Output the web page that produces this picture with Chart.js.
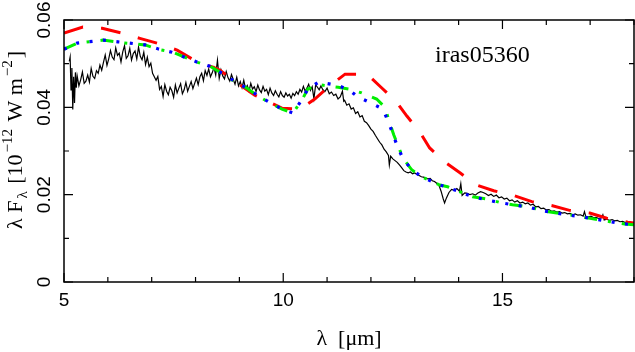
<!DOCTYPE html>
<html>
<head>
<meta charset="utf-8">
<script src="https://cdn.jsdelivr.net/npm/chart.js@4.4.0/dist/chart.umd.min.js"></script>
<style>
  body { margin: 0; background: #fff; }
  canvas { display: block; }
</style>
</head>
<body>
<canvas id="sedChart" width="635" height="352"></canvas>
<script>
// observed spectrum [lambda (um), lambda F_lambda]
const observed = [
  [5.12,.0505],[5.14,.0515],[5.16,.0440],[5.18,.0490],[5.20,.0395],[5.22,.0470],[5.24,.0410],[5.26,.0480],
  [5.28,.0445],[5.30,.0472],[5.34,.0449],[5.38,.0463],[5.42,.0481],[5.46,.0455],[5.50,.0460],[5.54,.0474],
  [5.58,.0458],[5.62,.0489],[5.66,.0471],[5.70,.0466],[5.74,.0484],[5.78,.0478],[5.82,.0497],[5.86,.0485],
  [5.90,.0503],[5.94,.0520],[5.98,.0496],[6.02,.0511],[6.06,.0530],[6.10,.0515],[6.14,.0509],[6.18,.0536],
  [6.22,.0519],[6.26,.0524],[6.30,.0504],[6.34,.0527],[6.38,.0541],[6.42,.0512],[6.46,.0518],[6.50,.0535],
  [6.54,.0508],[6.58,.0523],[6.62,.0529],[6.66,.0511],[6.70,.0538],[6.74,.0517],[6.78,.0509],[6.82,.0526],
  [6.86,.0498],[6.90,.0515],[6.94,.0493],[6.98,.0501],[7.02,.0478],[7.06,.0470],[7.10,.0462],[7.14,.0471],
  [7.18,.0441],[7.22,.0448],[7.26,.0425],[7.30,.0452],[7.34,.0437],[7.38,.0429],[7.42,.0446],[7.46,.0438],
  [7.50,.0423],[7.54,.0451],[7.58,.0433],[7.62,.0444],[7.66,.0454],[7.70,.0431],[7.74,.0440],[7.78,.0457],
  [7.82,.0437],[7.86,.0448],[7.90,.0459],[7.94,.0443],[7.98,.0455],[8.02,.0467],[8.06,.0452],[8.10,.0470],
  [8.14,.0478],[8.18,.0461],[8.22,.0484],[8.26,.0473],[8.30,.0488],[8.34,.0470],[8.38,.0479],[8.42,.0491],
  [8.46,.0474],[8.50,.0508],[8.54,.0466],[8.58,.0486],[8.62,.0472],[8.66,.0465],[8.70,.0482],[8.74,.0468],
  [8.78,.0460],[8.82,.0475],[8.86,.0464],[8.90,.0453],[8.94,.0469],[8.98,.0449],[9.02,.0459],[9.06,.0445],
  [9.10,.0462],[9.14,.0443],[9.18,.0450],[9.22,.0437],[9.26,.0455],[9.30,.0442],[9.34,.0447],[9.38,.0436],
  [9.42,.0451],[9.46,.0440],[9.50,.0434],[9.54,.0448],[9.58,.0437],[9.62,.0441],[9.66,.0429],[9.70,.0444],
  [9.74,.0433],[9.78,.0427],[9.82,.0438],[9.86,.0430],[9.90,.0424],[9.94,.0436],[9.98,.0427],[10.02,.0423],
  [10.06,.0433],[10.10,.0426],[10.14,.0430],[10.18,.0421],[10.22,.0432],[10.26,.0427],[10.30,.0436],[10.34,.0430],
  [10.38,.0441],[10.42,.0435],[10.46,.0448],[10.50,.0437],[10.54,.0444],[10.58,.0453],[10.62,.0439],[10.66,.0447],
  [10.70,.0420],[10.74,.0452],[10.78,.0446],[10.82,.0440],[10.86,.0449],[10.90,.0441],[10.95,.0436],[11.00,.0444],
  [11.05,.0431],[11.10,.0435],[11.15,.0427],[11.20,.0430],[11.25,.0419],[11.30,.0424],[11.35,.0437],[11.38,.0414],
  [11.40,.0416],[11.45,.0405],[11.50,.0408],[11.55,.0396],[11.60,.0399],[11.65,.0386],[11.70,.0390],[11.75,.0378],
  [11.80,.0381],[11.85,.0368],[11.90,.0365],[11.95,.0358],[12.00,.0350],[12.05,.0345],[12.10,.0336],[12.15,.0328],
  [12.20,.0320],[12.25,.0314],[12.30,.0304],[12.35,.0298],[12.40,.0290],[12.42,.0268],[12.45,.0288],[12.50,.0282],
  [12.55,.0278],[12.60,.0274],[12.65,.0268],[12.70,.0262],[12.75,.0255],[12.80,.0252],[12.85,.0250],[12.90,.0252],
  [12.95,.0248],[13.00,.0250],[13.05,.0246],[13.10,.0244],[13.15,.0241],[13.20,.0240],[13.25,.0238],[13.30,.0236],
  [13.35,.0237],[13.40,.0232],[13.45,.0230],[13.50,.0226],[13.55,.0222],[13.60,.0208],[13.65,.0190],[13.68,.0181],
  [13.72,.0192],[13.78,.0205],[13.84,.0212],[13.90,.0210],[13.96,.0214],[14.02,.0208],[14.05,.0225],[14.08,.0198],
  [14.14,.0204],[14.20,.0203],[14.26,.0200],[14.32,.0202],[14.38,.0199],[14.44,.0204],[14.50,.0207],[14.56,.0205],
  [14.62,.0202],[14.68,.0198],[14.74,.0201],[14.80,.0196],[14.86,.0199],[14.92,.0193],[14.98,.0195],[15.04,.0190],
  [15.10,.0192],[15.16,.0186],[15.22,.0188],[15.28,.0183],[15.34,.0186],[15.40,.0181],[15.46,.0183],[15.52,.0179],
  [15.58,.0181],[15.64,.0176],[15.70,.0178],[15.76,.0172],[15.82,.0173],[15.88,.0168],[15.94,.0169],[16.00,.0165],
  [16.06,.0166],[16.12,.0162],[16.18,.0163],[16.24,.0160],[16.30,.0161],[16.36,.0158],[16.42,.0159],[16.48,.0156],
  [16.54,.0157],[16.60,.0154],[16.66,.0156],[16.72,.0153],[16.78,.0154],[16.84,.0151],[16.87,.0161],[16.90,.0150],
  [16.96,.0149],[17.02,.0151],[17.08,.0147],[17.14,.0148],[17.20,.0145],[17.26,.0147],[17.29,.0154],[17.32,.0142],
  [17.38,.0144],[17.44,.0141],[17.50,.0143],[17.56,.0140],[17.62,.0141],[17.68,.0138],[17.74,.0139],[17.80,.0136],
  [17.86,.0138],[17.92,.0135],[17.98,.0136]
];

// model curves
const modelRed = [
  [5.00,.0570],[5.43,.0584],[5.87,.0581],[6.32,.0570],[6.73,.0558],[7.19,.0545],[7.58,.0531],[8.05,.0503],
  [8.40,.0492],[8.56,.0485],[8.90,.0459],[9.19,.0439],[9.35,.0428],[9.97,.0398],[10.38,.0396],[10.72,.0419],
  [11.06,.0449],[11.41,.0476],[11.91,.0476],[12.23,.0446],[12.57,.0414],[12.82,.0380],[13.11,.0344],[13.34,.0307],
  [13.68,.0275],[14.03,.0250],[14.41,.0222],[14.80,.0209],[15.26,.0198],[15.67,.0184],[16.12,.0175],[16.53,.0164],
  [16.99,.0158],[17.38,.0146],[17.86,.0137],[18.00,.0135]
];
const modelGreen = [
  [5.00,.0533],[5.30,.0547],[5.89,.0554],[6.23,.0549],[6.85,.0543],[7.14,.0533],[7.46,.0527],[8.05,.0503],
  [8.33,.0494],[8.67,.0474],[8.90,.0458],[9.17,.0444],[9.42,.0426],[9.70,.0410],[9.97,.0396],[10.22,.0387],
  [10.43,.0417],[10.56,.0442],[10.81,.0452],[11.25,.0446],[11.50,.0442],[11.79,.0433],[12.13,.0419],[12.32,.0400],
  [12.41,.0370],[12.52,.0337],[12.73,.0284],[12.93,.0257],[13.16,.0241],[13.57,.0222],[13.75,.0218],[14.32,.0195],
  [14.66,.0190],[14.98,.0181],[15.23,.0177],[15.62,.0172],[15.92,.0163],[16.24,.0158],[16.53,.0154],[16.83,.0149],
  [17.06,.0145],[17.45,.0138],[17.79,.0133],[18.00,.0131]
];
const modelBlue = [
  [5.00,.0533],[5.30,.0547],[5.89,.0554],[6.23,.0550],[6.85,.0543],[7.14,.0534],[7.46,.0526],[8.05,.0503],
  [8.33,.0494],[8.67,.0474],[8.90,.0459],[9.17,.0444],[9.42,.0427],[9.70,.0411],[9.97,.0396],[10.22,.0387],
  [10.43,.0418],[10.56,.0442],[10.81,.0458],[11.25,.0450],[11.50,.0440],[11.70,.0424],[12.00,.0410],[12.27,.0396],
  [12.39,.0369],[12.61,.0309],[12.73,.0283],[12.93,.0257],[13.16,.0241],[13.57,.0222],[13.75,.0217],[14.32,.0195],
  [14.98,.0181],[15.62,.0171],[15.92,.0163],[16.53,.0153],[16.83,.0149],[17.45,.0138],[17.79,.0133],[18.00,.0131]
];

// axis ticks
const xMajorTicks = [5, 10, 15];
const xMinorTicks = [6, 7, 8, 9, 11, 12, 13, 14, 16, 17, 18];
const yMajorTicks = [0, 0.02, 0.04, 0.06];
const yMinorTicks = [0.01, 0.03, 0.05];
const xTickLabels = ['5', '10', '15'];
const yTickLabels = ['0', '0.02', '0.04', '0.06'];
const objectName = 'iras05360';

const toXY = arr => arr.map(p => ({ x: p[0], y: p[1] }));

const SANS = '"Liberation Sans", Arial, sans-serif';
const SERIF = '"Liberation Serif", "Times New Roman", serif';

// frame with inward ticks and all the text, PGPLOT style
const framePlugin = {
  id: 'framePlugin',
  afterDraw(chart) {
    const ctx = chart.ctx;
    const a = chart.chartArea;
    const xs = chart.scales.x, ys = chart.scales.y;
    ctx.save();
    ctx.strokeStyle = '#000';
    ctx.lineWidth = 1.5;
    ctx.strokeRect(a.left, a.top, a.right - a.left, a.bottom - a.top);

    ctx.lineWidth = 1.2;
    ctx.beginPath();
    const xt = (v, len) => {
      const px = xs.getPixelForValue(v);
      ctx.moveTo(px, a.bottom); ctx.lineTo(px, a.bottom - len);
      ctx.moveTo(px, a.top); ctx.lineTo(px, a.top + len);
    };
    const yt = (v, len) => {
      const py = ys.getPixelForValue(v);
      ctx.moveTo(a.left, py); ctx.lineTo(a.left + len, py);
      ctx.moveTo(a.right, py); ctx.lineTo(a.right - len, py);
    };
    xMajorTicks.forEach(v => xt(v, 9));
    xMinorTicks.forEach(v => xt(v, 5));
    yMajorTicks.forEach(v => yt(v, 9));
    yMinorTicks.forEach(v => yt(v, 5));
    ctx.stroke();

    ctx.fillStyle = '#000';
    ctx.font = '19px ' + SANS;
    ctx.textAlign = 'center';
    ctx.textBaseline = 'middle';
    xMajorTicks.forEach((v, i) => {
      ctx.fillText(xTickLabels[i], xs.getPixelForValue(v), 301);
    });
    yMajorTicks.forEach((v, i) => {
      ctx.save();
      ctx.translate(45, ys.getPixelForValue(v));
      ctx.rotate(-Math.PI / 2);
      ctx.fillText(yTickLabels[i], 0, 0);
      ctx.restore();
    });

    // x title
    ctx.font = '22px ' + SERIF;
    ctx.textBaseline = 'alphabetic';
    ctx.fillText('\u03bb  [\u03bcm]', (a.left + a.right) / 2, 345);

    // object name
    ctx.font = '24px ' + SERIF;
    ctx.textAlign = 'left';
    ctx.fillText(objectName, 435, 62);

    // y title with sub/superscripts
    const parts = [
      ['\u03bb F', 22, 0],
      ['\u03bb', 15, 5],
      [' [10', 22, 0],
      ['\u221212', 15, -10],
      [' W m', 22, 0],
      ['\u22122', 15, -10],
      [']', 22, 0]
    ];
    ctx.save();
    ctx.translate(22, 229);
    ctx.rotate(-Math.PI / 2);
    let x = 0;
    parts.forEach(([t, size, dy]) => {
      ctx.font = size + 'px ' + SERIF;
      ctx.fillText(t, x, dy);
      x += ctx.measureText(t).width + 2;
    });
    ctx.restore();
    ctx.restore();
  }
};

new Chart(document.getElementById('sedChart').getContext('2d'), {
  type: 'line',
  data: {
    datasets: [
      {
        label: 'observed',
        data: toXY(observed),
        borderColor: '#000',
        borderWidth: 1.2,
        order: 4
      },
      {
        label: 'model 1',
        data: toXY(modelRed),
        borderColor: '#ff0000',
        borderWidth: 3,
        borderDash: [20, 18],
        order: 3
      },
      {
        label: 'model 2',
        data: toXY(modelGreen),
        borderColor: '#00ee00',
        borderWidth: 3,
        borderDash: [13, 11, 3, 11],
        order: 2
      },
      {
        label: 'model 3',
        data: toXY(modelBlue),
        borderColor: '#0000ff',
        borderWidth: 3.2,
        borderDash: [3, 10.5],
        order: 1
      }
    ]
  },
  options: {
    responsive: false,
    animation: false,
    layout: { padding: { left: 64, right: 1, top: 20, bottom: 70 } },
    elements: { point: { radius: 0 }, line: { tension: 0, fill: false } },
    scales: {
      x: { type: 'linear', min: 5, max: 18, display: false },
      y: { type: 'linear', min: 0, max: 0.06, display: false }
    },
    plugins: { legend: { display: false }, tooltip: { enabled: false } }
  },
  plugins: [framePlugin]
});
</script>
</body>
</html>
